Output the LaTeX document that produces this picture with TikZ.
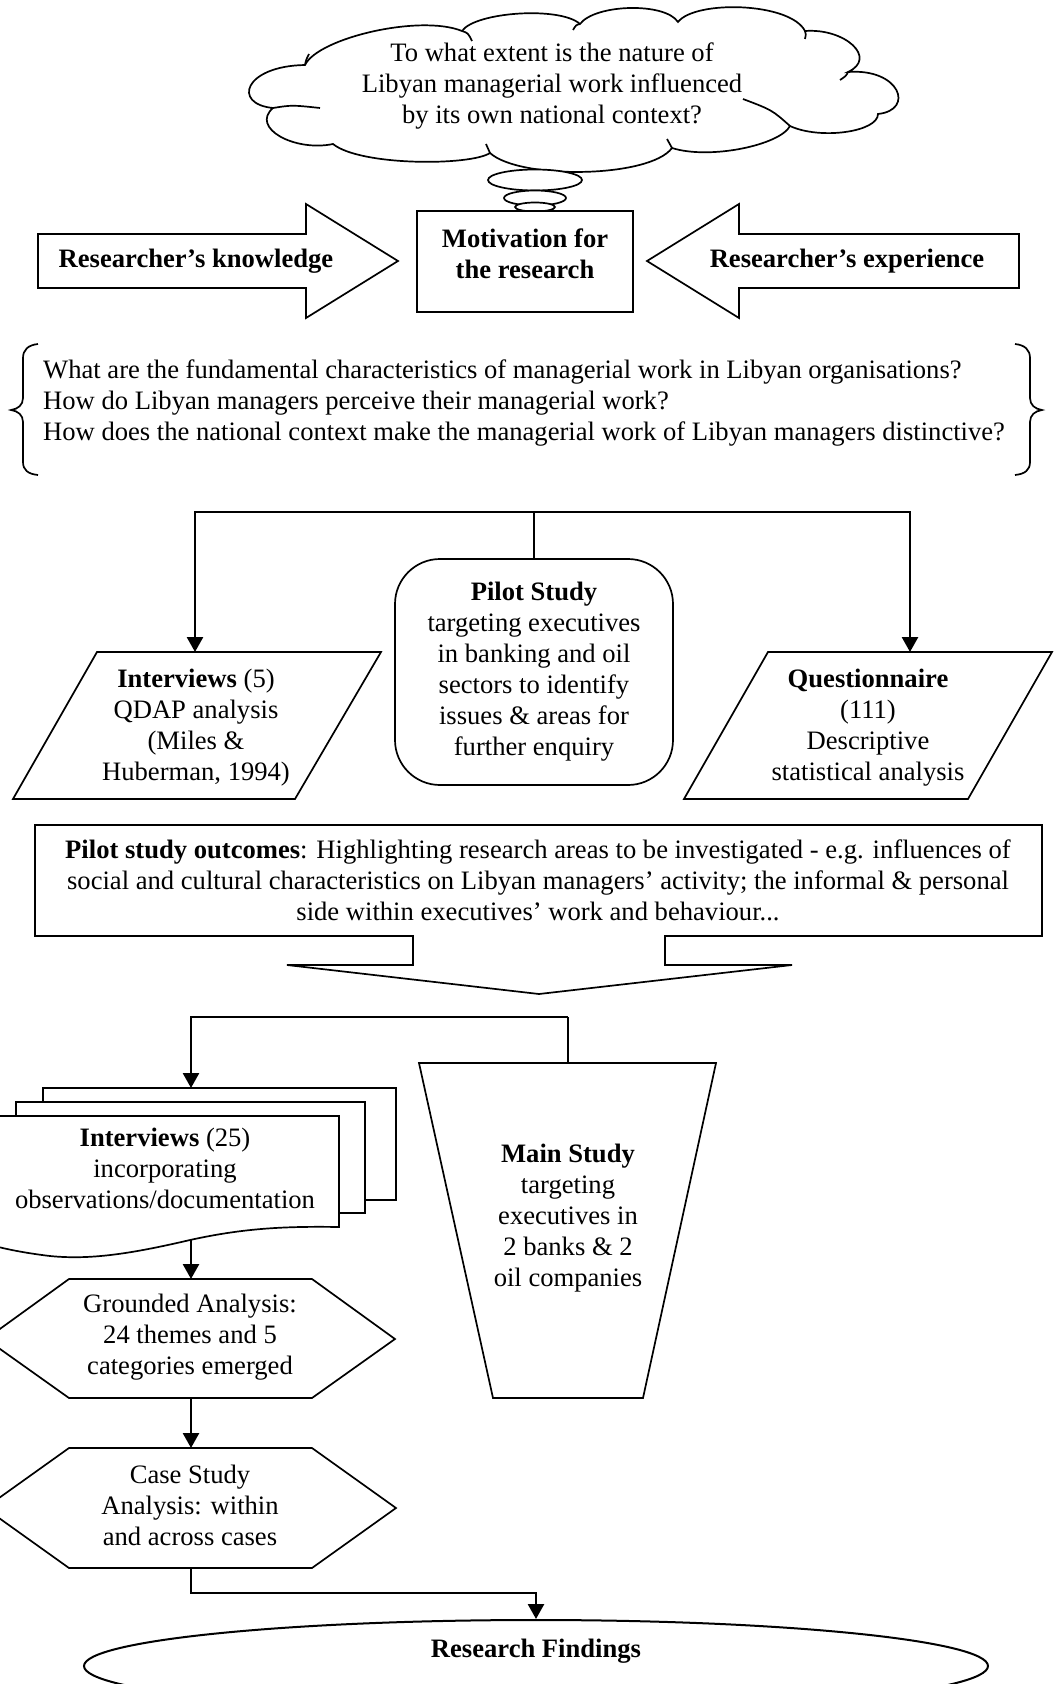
\documentclass[tikz,border=0pt]{standalone}
\usepackage{fontspec}
\setmainfont{Liberation Serif}
\usetikzlibrary{arrows.meta,calc,shapes.geometric}
\begin{document}
\begin{tikzpicture}[x=1pt,y=-1pt,
  txt/.style={font=\fontsize{26.6}{31}\selectfont, inner sep=0pt, align=center},
  btxt/.style={font=\fontsize{26.6}{31}\selectfont\bfseries, inner sep=0pt, align=center},
  outl/.style={draw=black, line width=1.7pt, fill=white, line join=miter},
  thin/.style={draw=black, line width=1.7pt},
  conn/.style={draw=black, line width=2.7pt},
  arr/.style={conn, -{Triangle[length=15pt,width=16pt]}},
]
\fill[white] (0,0) rectangle (1053,1684);
\useasboundingbox (0,0) rectangle (1053,1684);

% ---- thought cloud with the research question
\coordinate (j0) at (305,65);
\coordinate (j1) at (462,31);
\coordinate (j2) at (580,24);
\coordinate (j3) at (678,22);
\coordinate (j4) at (805,31);
\coordinate (j5) at (848,72);
\coordinate (j6) at (878,114);
\coordinate (j7) at (790,126);
\coordinate (j8) at (672,148);
\coordinate (j9) at (490,153);
\coordinate (j10) at (333,144);
\coordinate (j11) at (273,108);
\draw[outl] (j0)
  .. controls (318,38) and (420,14) .. (j1)
  .. controls (475,12) and (560,6) .. (j2)
  .. controls (595,4) and (665,2) .. (j3)
  .. controls (695,0) and (790,2) .. (j4)
  .. controls (845,28) and (878,58) .. (j5)
  .. controls (900,68) and (915,110) .. (j6)
  .. controls (878,132) and (820,140) .. (j7)
  .. controls (780,145) and (710,160) .. (j8)
  .. controls (650,178) and (520,180) .. (j9)
  .. controls (470,166) and (360,166) .. (j10)
  .. controls (295,152) and (250,128) .. (j11)
  .. controls (232,104) and (244,66) .. (j0) -- cycle;
% inner curls where the puffs overlap
\draw[thin] (j0) .. controls (306,60) .. (309,54);
\draw[thin] (j1) .. controls (468,33) .. (472,41);
\draw[thin] (j2) .. controls (576,25) .. (573,30);
\draw[thin] (j4) .. controls (806,34) .. (805,39);
\draw[thin] (j5) .. controls (846,76) .. (840,80);
\draw[thin] (j7) .. controls (772,110) .. (743,99);
\draw[thin] (j8) .. controls (670,144) .. (667,139);
\draw[thin] (j9) .. controls (488,149) .. (486,144);
\draw[thin] (j11) .. controls (292,105) .. (320,108);
\node[txt] (q) at (552,86) {To what extent is the nature of\\Libyan managerial work influenced\\by its own national context?};

% thought bubbles
\node[outl, ellipse, inner sep=0pt, minimum width=94pt, minimum height=21pt] (b1) at (535,180) {};
\node[outl, ellipse, inner sep=0pt, minimum width=62pt, minimum height=15pt] (b2) at (535,198) {};
\node[outl, ellipse, inner sep=0pt, minimum width=40pt, minimum height=9pt] (b3) at (535,207) {};

% ---- motivation and the two block arrows
\node[outl, minimum width=216pt, minimum height=101pt] (mot) at (525,261.5) {};
\node[btxt] (motT) at (525,254) {Motivation for\\the research};
\draw[outl] (38,234) -- (306,234) -- (306,204) -- (398,261) -- (306,318) -- (306,288) -- (38,288) -- cycle;
\draw[outl] (1019,234) -- (739,234) -- (739,204) -- (647,261) -- (739,318) -- (739,288) -- (1019,288) -- cycle;
\node[btxt] (kn) at (196,261) {Researcher’s knowledge};
\node[btxt] (ex) at (847,261) {Researcher’s experience};

% ---- research questions between braces
\draw[thin] (38,344) .. controls (28,345) and (23,350) .. (23,358) -- (23,398)
  .. controls (23,405) and (18,409) .. (11,410) .. controls (18,411) and (23,415) .. (23,422)
  -- (23,462) .. controls (23,470) and (28,474) .. (38,475);
\draw[thin] (1015,344) .. controls (1025,345) and (1030,350) .. (1030,358) -- (1030,398)
  .. controls (1030,405) and (1035,409) .. (1042,410) .. controls (1035,411) and (1030,415) .. (1030,422)
  -- (1030,462) .. controls (1030,470) and (1025,474) .. (1015,475);
\node[txt, align=left, anchor=west] (rq) at (43,403) {What are the fundamental characteristics of managerial work in Libyan organisations?\\How do Libyan managers perceive their managerial work?\\How does the national context make the managerial work of Libyan managers distinctive?};

% ---- pilot study
\node[outl, txt, rounded corners=45pt, minimum width=278pt, minimum height=226pt] (pilot) at (534,672)
  {\textbf{Pilot Study}\\targeting executives\\in banking and oil\\sectors to identify\\issues \& areas for\\further enquiry};
\draw[outl] (97,652) -- (381,652) -- (295,799) -- (13,799) -- cycle;
\node[txt] (iv5) at (196,728) {\textbf{Interviews} (5)\\QDAP analysis\\(Miles \&\\Huberman, 1994)};
\draw[outl] (768,652) -- (1052,652) -- (968,799) -- (684,799) -- cycle;
\node[txt] (qn) at (868,728) {\textbf{Questionnaire}\\(111)\\Descriptive\\statistical analysis};
\coordinate (jt) at (534,512);
\coordinate (ivin) at (195,652);
\coordinate (qnin) at (910,652);
\draw[conn] (pilot.north) -- (jt);
\draw[arr] (jt) -| (ivin);
\draw[arr] (jt) -| (qnin);

% ---- pilot study outcomes with downward arrow
\draw[outl] (35,825) -- (1042,825) -- (1042,936) -- (665,936) -- (665,965) -- (792,965)
  -- (539,994) -- (287,965) -- (413,965) -- (413,936) -- (35,936) -- cycle;
\node[txt] (out) at (538,880) {\textbf{Pilot study outcomes}: Highlighting research areas to be investigated - e.g. influences of\\social and cultural characteristics on Libyan managers’ activity; the informal \& personal\\side within executives’ work and behaviour...};

% ---- main study
\draw[outl] (419,1063) -- (716,1063) -- (643,1398) -- (493,1398) -- cycle;
\node[txt] (ms) at (568,1218) {\textbf{Main Study}\\targeting\\executives in\\2 banks \& 2\\oil companies};
\coordinate (mstop) at (568,1063);
\coordinate (jm) at (568,1017);
\coordinate (stk) at (191,1088);
\draw[conn] (mstop) -- (jm);
\draw[arr] (jm) -| (stk);

% stacked documents
\draw[outl] (43,1088) rectangle (396,1200);
\draw[outl] (16,1102) rectangle (365,1213);
\draw[outl] (-9,1116) -- (339,1116) -- (339,1227)
  .. controls (280,1226) and (240,1229) .. (190,1240)
  .. controls (130,1254) and (90,1260) .. (50,1256)
  .. controls (25,1253) and (5,1249) .. (-9,1245) -- cycle;
\node[txt] (iv25) at (165,1168) {\textbf{Interviews} (25)\\incorporating\\observations/documentation};

% analysis hexagons
\draw[outl] (69,1279) -- (312,1279) -- (395,1339) -- (312,1398) -- (69,1398) -- (-14,1339) -- cycle;
\node[txt] (ga) at (190,1337) {Grounded Analysis:\\24 themes and 5\\categories emerged};
\draw[outl] (69,1448) -- (312,1448) -- (396,1508) -- (312,1568) -- (69,1568) -- (-15,1508) -- cycle;
\node[txt] (cs) at (190,1505) {Case Study\\Analysis: within\\and across cases};
\coordinate (docb) at (191,1240);
\coordinate (h1t) at (191,1279);
\coordinate (h1b) at (191,1398);
\coordinate (h2t) at (191,1448);
\coordinate (h2b) at (191,1568);
\draw[arr] (docb) -- (h1t);
\draw[arr] (h1b) -- (h2t);

% ---- findings
\node[outl, ellipse, inner sep=0pt, line width=2pt, minimum width=904pt, minimum height=92pt] (rf) at (536,1666) {};
\node[btxt] (rfT) at (536,1651) {Research Findings};
\coordinate (jb) at (536,1593);
\draw[arr] (h2b) |- (jb) -- (rf.north);
\end{tikzpicture}
\end{document}
